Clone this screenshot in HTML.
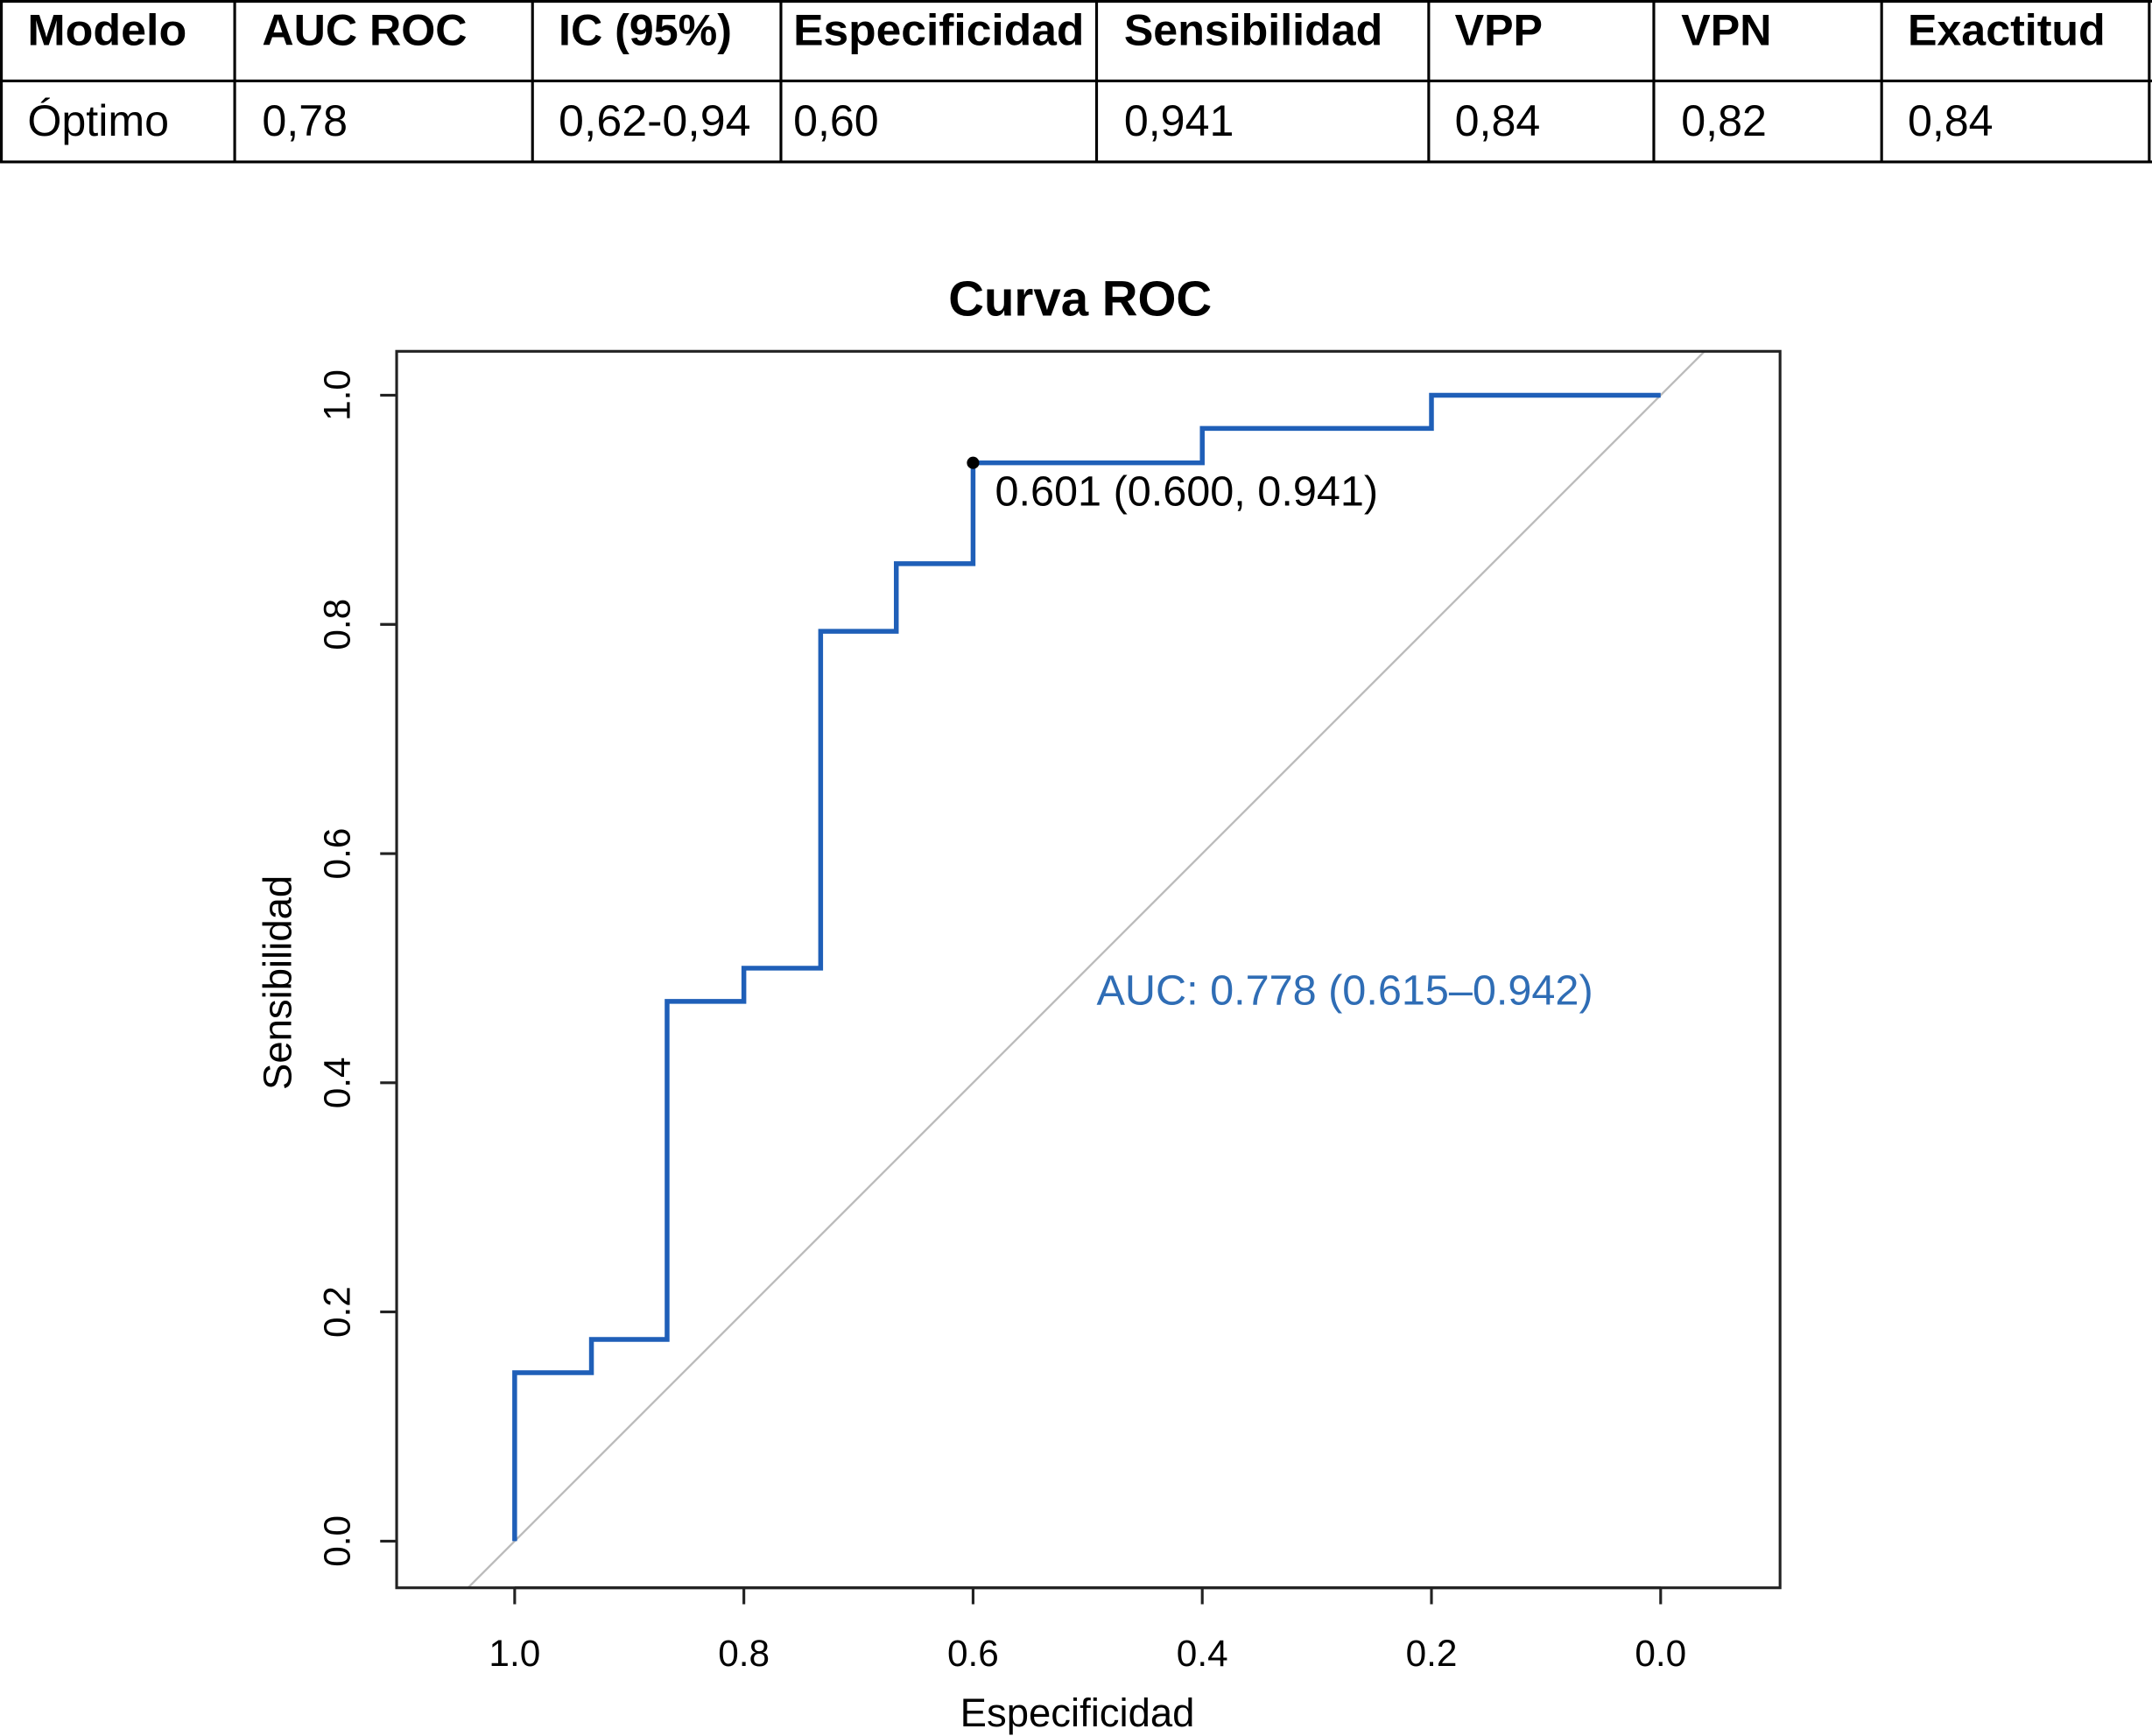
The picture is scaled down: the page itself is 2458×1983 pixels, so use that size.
<!DOCTYPE html>
<html><head><meta charset="utf-8"><style>
html,body{margin:0;padding:0;background:#fff}
svg{display:block;font-family:"Liberation Sans",Arial,sans-serif}
</style></head><body>
<svg id="s" width="2458" height="1983" viewBox="0 0 1568 1265" xmlns="http://www.w3.org/2000/svg">
<g stroke="#000" stroke-width="2">
<line x1="0" y1="1" x2="1568" y2="1"/><line x1="0" y1="59" x2="1568" y2="59"/><line x1="0" y1="118" x2="1568" y2="118"/>
<line x1="1" y1="0" x2="1" y2="118"/><line x1="171" y1="0" x2="171" y2="118"/><line x1="388" y1="0" x2="388" y2="118"/><line x1="569" y1="0" x2="569" y2="118"/><line x1="799" y1="0" x2="799" y2="118"/><line x1="1041" y1="0" x2="1041" y2="118"/><line x1="1205" y1="0" x2="1205" y2="118"/><line x1="1371" y1="0" x2="1371" y2="118"/><line x1="1566" y1="0" x2="1566" y2="118"/>
</g>
<g font-size="32" font-weight="bold" fill="#000">
<text x="20" y="33" textLength="116" lengthAdjust="spacingAndGlyphs">Modelo</text><text x="191" y="33">AUC ROC</text><text x="407" y="33">IC (95%)</text><text x="578" y="33" textLength="212" lengthAdjust="spacingAndGlyphs">Especificidad</text><text x="819" y="33">Sensibilidad</text><text x="1060" y="33">VPP</text><text x="1225" y="33">VPN</text><text x="1390" y="33">Exactitud</text>
</g>
<g font-size="32" fill="#000">
<text x="20" y="99">Óptimo</text><text x="191" y="99">0,78</text><text x="407" y="99" textLength="140" lengthAdjust="spacingAndGlyphs">0,62-0,94</text><text x="578" y="99">0,60</text><text x="819" y="99">0,941</text><text x="1060" y="99">0,84</text><text x="1225" y="99">0,82</text><text x="1390" y="99">0,84</text>
</g>
<text x="787" y="230" font-size="36" font-weight="bold" text-anchor="middle">Curva ROC</text>
<g id="plot"></g>
</svg>
<script>
const specs=[1.0,1.0,0.933,0.933,0.867,0.867,0.8,0.8,0.733,0.733,0.667,0.667,0.6,0.6,0.4,0.4,0.2,0.2,0.0];
const sens=[0.0,0.147,0.147,0.176,0.176,0.471,0.471,0.5,0.5,0.794,0.794,0.853,0.853,0.941,0.941,0.971,0.971,1.0,1.0];
const xTicks=[1.0,0.8,0.6,0.4,0.2,0.0];
const xTickLabels=["1.0","0.8","0.6","0.4","0.2","0.0"];
const yTicks=[0.0,0.2,0.4,0.6,0.8,1.0];
const yTickLabels=["0.0","0.2","0.4","0.6","0.8","1.0"];
const bestPoint=[0.6,0.941];
const bestLabel="0.601 (0.600, 0.941)";
const aucLabel="AUC: 0.778 (0.615\u20130.942)";
const NS="http://www.w3.org/2000/svg";
const X=v=>375+(1-v)*835, Y=v=>1123-v*835;
const L=289,R=1297,T=256,B=1157;
const g=document.getElementById('plot');
function mk(t,a,txt){const e=document.createElementNS(NS,t);for(const k in a)e.setAttribute(k,a[k]);if(txt!=null)e.textContent=txt;g.appendChild(e);return e;}
let e;
const sensBottom=(1123-B)/835, sensTop=(1123-T)/835;
e=mk('line',{x1:X(1-sensBottom),y1:B,x2:X(1-sensTop),y2:T,stroke:'#bbb','stroke-width':1.5});


e=mk('rect',{x:L,y:T,width:R-L,height:B-T,fill:'none',stroke:'#222','stroke-width':2});


xTicks.forEach((v,i)=>{
 e=mk('line',{x1:X(v),y1:B,x2:X(v),y2:B+12,stroke:'#222','stroke-width':2});
 
 
 e=mk('text',{x:X(v),y:1214,'font-size':27,'text-anchor':'middle'},xTickLabels[i]);
 
 
});
e=mk('line',{x1:X(1),y1:B,x2:X(0),y2:B,stroke:'#222','stroke-width':2});


yTicks.forEach((v,i)=>{
 e=mk('line',{x1:L-12,y1:Y(v),x2:L,y2:Y(v),stroke:'#222','stroke-width':2});
 
 
 e=mk('text',{x:0,y:0,'font-size':27,'text-anchor':'middle',transform:`translate(255,${Y(v)}) rotate(-90)`},yTickLabels[i]);
 
 
});
e=mk('text',{x:785,y:1258,'font-size':29,'text-anchor':'middle'},'Especificidad');


e=mk('text',{x:0,y:0,'font-size':29,'text-anchor':'middle',transform:'translate(212,716) rotate(-90)'},'Sensibilidad');


e=mk('polyline',{points:specs.map((s,i)=>X(s)+','+Y(sens[i])).join(' '),fill:'none',stroke:'#1f5fb8','stroke-width':3.5});


e=mk('circle',{cx:X(bestPoint[0]),cy:Y(bestPoint[1]),r:4.5,fill:'#000'});


e=mk('text',{x:X(bestPoint[0])+16,y:Y(bestPoint[1])+31,'font-size':31},bestLabel);


e=mk('text',{x:799,y:732,'font-size':31,fill:'#2f6db5'},aucLabel);


</script>
</body></html>
